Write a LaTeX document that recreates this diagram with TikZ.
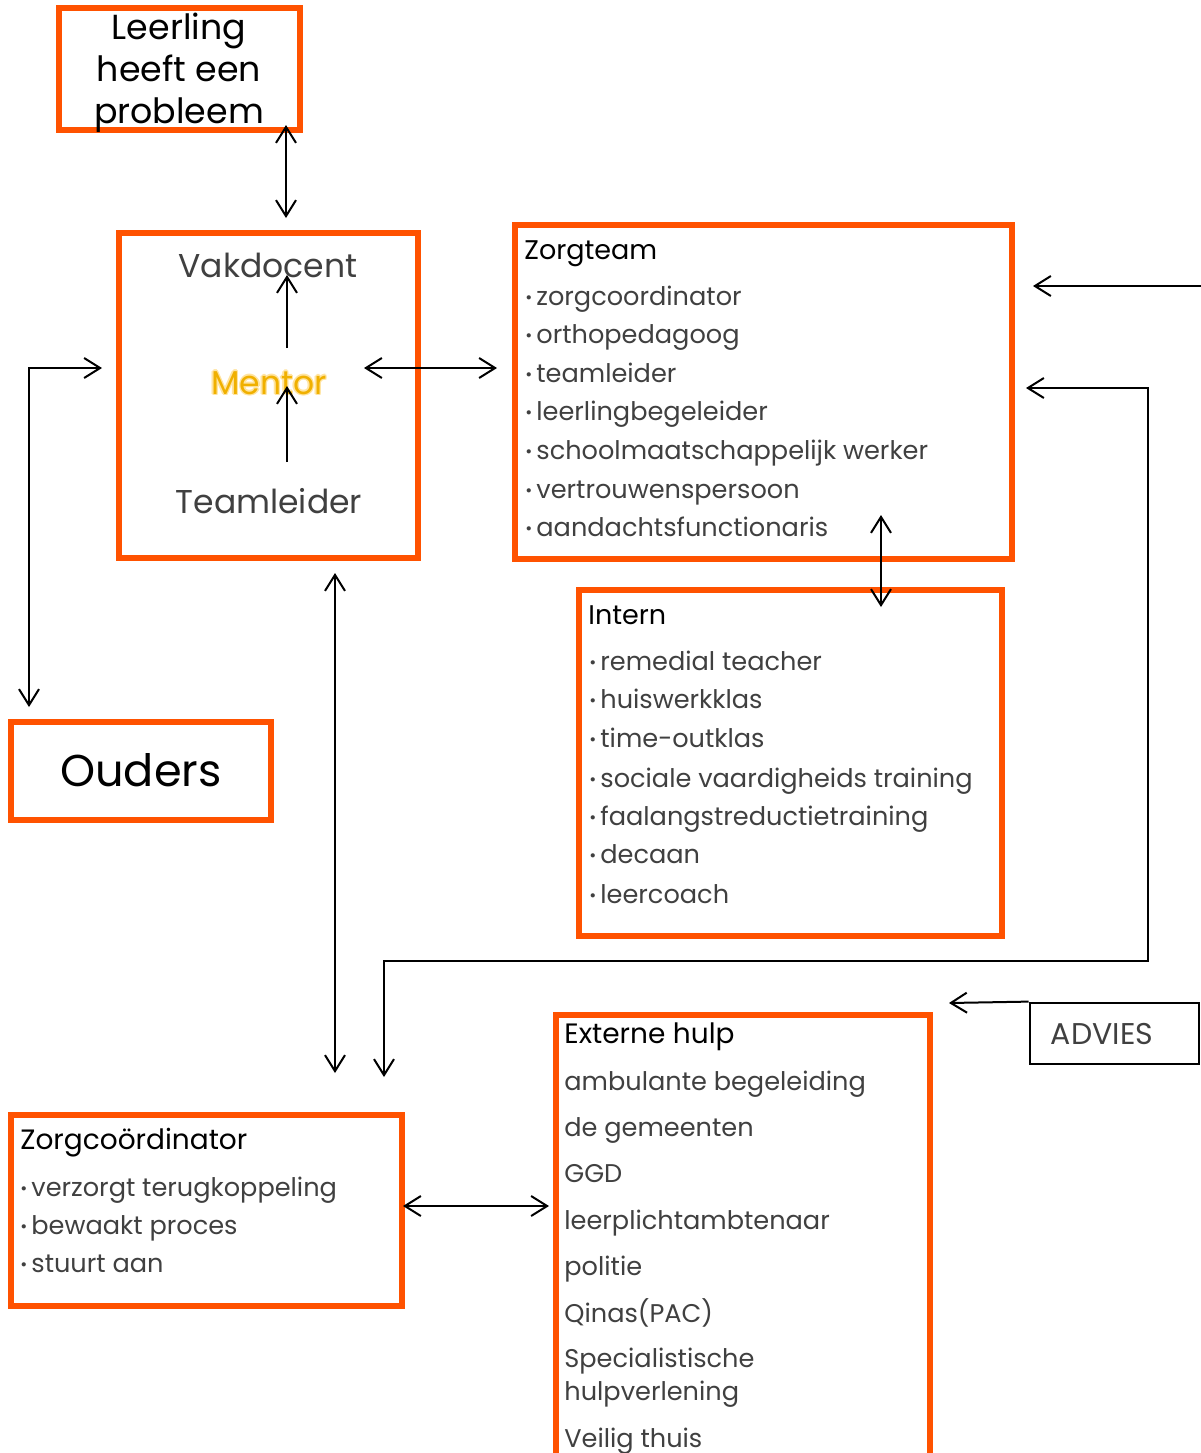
\documentclass[tikz,border=0pt]{standalone}
\usepackage{fontspec}
\setmainfont{Poppins}
\usetikzlibrary{arrows.meta,fit}
\definecolor{orng}{HTML}{FF5200}
\definecolor{txtgray}{HTML}{404040}
\definecolor{mentorc}{HTML}{F0B000}
\definecolor{glowc}{HTML}{FFE4A0}
\newcommand{\bul}{\makebox[5.5pt][l]{\raisebox{0.6pt}{\fontsize{8.5pt}{8.5pt}\selectfont •}}}
\begin{document}
\begin{tikzpicture}[x=0.5pt,y=-0.5pt,
  obox/.style={draw=orng, line width=2.6pt, inner sep=0pt},
  kbox/.style={draw=black, line width=1.4pt, inner sep=0pt},
  conn/.style={draw=black, line width=1pt},
  >={Straight Barb[length=8pt,width=10pt]},
  item/.style={anchor=base west, inner sep=0pt, text=txtgray, font=\fontsize{12.8pt}{15pt}\selectfont},
  ttl/.style={anchor=base west, inner sep=0pt, text=black, font=\fontsize{13.5pt}{16pt}\selectfont},
  big/.style={anchor=base, inner sep=0pt, font=\fontsize{16.5pt}{20pt}\selectfont}
]
\useasboundingbox (0,0) rectangle (1201,1453);
\fill[white] (0,0) rectangle (1201,1453);

% boxes
\node[obox, fit={(59,8) (300,130)}] (leerling) {};
\node[obox, fit={(119,233) (418,558)}] (mentorbox) {};
\node[obox, fit={(515,225) (1012,559)}] (zorgteam) {};
\node[obox, fit={(579,590) (1002,936)}] (intern) {};
\node[obox, fit={(11,722) (271,820)}] (ouders) {};
\node[obox, fit={(11,1115) (402,1306)}] (zorgco) {};
\node[obox, fit={(556,1015) (930,1475)}] (extern) {};
\node[kbox, fit={(1030,1003) (1199,1064)}] (advies) {};

% texts
\foreach \t/\y [count=\k] in {Leerling/39, heeft een/81, probleem/123}
  \node[anchor=base, inner sep=0pt, font=\fontsize{17.4pt}{21pt}\selectfont] (leerl\k) at (179,\y) {\t};
\node[big, text=txtgray] (vakdocent) at (268,277) {Vakdocent};
\foreach \dx/\dy [count=\k] in {-1.5/0,1.5/0,0/-1.5,0/1.5,-1/-1,1/1,-1/1,1/-1}
  \node[big, text=glowc] (mglow\k) at (269+\dx,394+\dy) {Mentor};
\node[big, text=mentorc] (mentor) at (269,394) {Mentor};
\node[big, text=txtgray] (teamleider) at (269,513) {Teamleider};
\node[anchor=base, inner sep=0pt, font=\fontsize{22.3pt}{26pt}\selectfont] (ouderstxt) at (141,786) {Ouders};

\node[ttl] (zttl) at (524,259) {Zorgteam};
\foreach \t/\y [count=\k] in {zorgcoordinator/305, orthopedagoog/343, teamleider/382, leerlingbegeleider/420, schoolmaatschappelijk werker/459, vertrouwenspersoon/498, aandachtsfunctionaris/536}
  \node[item] (zt\k) at (525,\y) {\bul\t};

\node[ttl] (ittl) at (588,624) {Intern};
\foreach \t/\y [count=\k] in {remedial teacher/670, huiswerkklas/708, time-outklas/747, sociale vaardigheids training/787, faalangstreductietraining/825, decaan/863, leercoach/903}
  \node[item] (in\k) at (589,\y) {\bul\t};

\node[ttl, font=\fontsize{14pt}{16pt}\selectfont] (zcttl) at (20,1149) {Zorgcoördinator};
\foreach \t/\y [count=\k] in {verzorgt terugkoppeling/1196, bewaakt proces/1234, stuurt aan/1272}
  \node[item] (zc\k) at (20,\y) {\bul\t};

\node[ttl, font=\fontsize{14pt}{16pt}\selectfont] (ettl) at (564,1043) {Externe hulp};
\foreach \t/\y [count=\k] in {ambulante begeleiding/1090, de gemeenten/1136, GGD/1182, leerplichtambtenaar/1229, politie/1275, Qinas(PAC)/1322, Specialistische/1367, hulpverlening/1400, Veilig thuis/1447}
  \node[item] (ext\k) at (564,\y) {\t};

\node[anchor=base, inner sep=0pt, text=txtgray, font=\fontsize{15pt}{17pt}\selectfont] (adviestxt) at (1102,1044) {ADVIES};

% connector end points
\coordinate (a1s) at (286,125); \coordinate (a1e) at (286,218);
\coordinate (m1s) at (287,348); \coordinate (m1e) at (287,275);
\coordinate (m2s) at (287,462); \coordinate (m2e) at (287,386);
\coordinate (mzs) at (364,368); \coordinate (mze) at (497,368);
\coordinate (lo1) at (29,707); \coordinate (lo2) at (29,368); \coordinate (lo3) at (102,368);
\coordinate (rs) at (1201,286); \coordinate (re) at (1033,286);
\coordinate (e1) at (384,1077); \coordinate (e2) at (384,961); \coordinate (e3) at (1148,961); \coordinate (e4) at (1148,388); \coordinate (e5) at (1026,388);
\coordinate (zis) at (881,515); \coordinate (zie) at (881,607);
\coordinate (vs) at (335,573); \coordinate (ve) at (335,1073);
\coordinate (hs) at (403,1206); \coordinate (he) at (549,1206);
\coordinate (ad) at (949,1003);

% connectors
\draw[conn,<->] (a1s) -- (a1e);
\draw[conn,->] (m1s) -- (m1e);
\draw[conn,->] (m2s) -- (m2e);
\draw[conn,<->] (mzs) -- (mze);
\draw[conn,<->] (lo1) -- (lo2) -- (lo3);
\draw[conn,->] (rs) -- (re);
\draw[conn,<->] (e1) -- (e2) -- (e3) -- (e4) -- (e5);
\draw[conn,<->] (zis) -- (zie);
\draw[conn,<->] (vs) -- (ve);
\draw[conn,<->] (hs) -- (he);
\draw[conn,->] (advies.north west) -- (ad);
\end{tikzpicture}
\end{document}
